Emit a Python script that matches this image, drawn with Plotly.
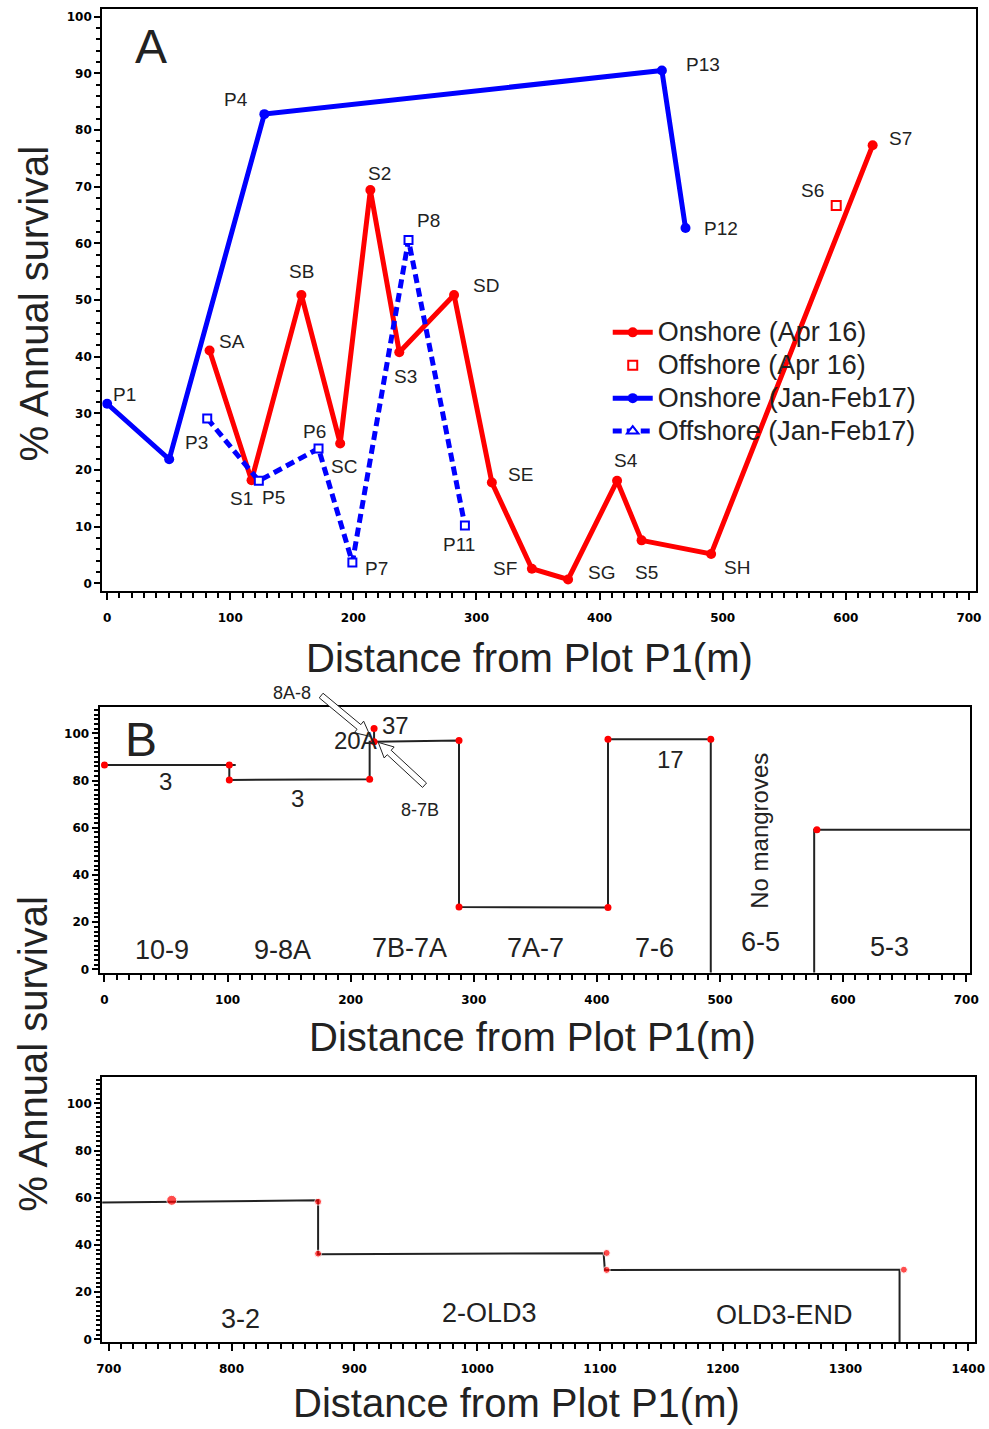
import plotly.graph_objects as go

W, H = 989, 1429

# ---------------- Panel A: % annual survival along the transect ----------------
on17_x = [0, 50.4, 127.7, 450.6, 469.8]
on17_y = [31.7, 21.9, 82.8, 90.5, 62.7]
on17_lab = ["P1", "", "P4", "P13", "P12"]

on16_x = [83.2, 117.3, 157.8, 189.3, 213.8, 237.3, 281.8, 312.5, 345.0, 374.4, 414.2, 434.1, 490.6, 621.8]
on16_y = [41.1, 18.2, 50.9, 24.7, 69.4, 40.8, 50.9, 17.8, 2.6, 0.7, 18.1, 7.6, 5.2, 77.3]
on16_lab = ["SA", "S1", "SB", "SC", "S2", "S3", "SD", "SE", "SF", "SG", "S4", "S5", "SH", "S7"]

off16_x = [592.2]
off16_y = [66.7]
off16_lab = ["S6"]

off17_x = [81.3, 123.2, 171.7, 199.2, 244.8, 290.6]
off17_y = [29.1, 18.1, 23.8, 3.7, 60.6, 10.2]
off17_lab = ["P3", "P5", "P6", "P7", "P8", "P11"]

# label placement relative to its point, in pixels (dx right, dy up)
label_shift = {
    "P1": (17, 9), "P4": (-28, 15), "P13": (41, 6), "P12": (35, 0),
    "SA": (22, 9), "S1": (-10, -18), "SB": (0, 23), "SC": (4, -23),
    "S2": (9, 17), "S3": (6, -24), "SD": (32, 9), "SE": (29, 8),
    "SF": (-27, 0), "SG": (33, 7), "S4": (9, 20), "S5": (5, -32),
    "SH": (26, -14), "S7": (28, 7), "S6": (-24, 15),
    "P3": (-11, -24), "P5": (15, -17), "P6": (-4, 17), "P7": (24, -6),
    "P8": (20, 19), "P11": (-6, -19),
}

# ---------------- Panel B: plots 10 to 3 (0-700 m) ----------------
b_line_x = [0, 106.6, None, 101.4, 101.4, 215.4, 215.4, 219.0, 219.0, 219.0, 288.0, 288.0,
            409.0, 409.0, 492.5, 492.5, None, 576.5, 576.5, 710]
b_line_y = [86.6, 86.6, None, 86.6, 80.3, 80.6, 96.5, 96.5, 102.1, 96.5, 97.0, 26.4,
            26.2, 97.5, 97.5, -5, None, -5, 59.2, 59.2]
b_pt_x = [0, 101.4, 101.4, 215.4, 219.0, 219.0, 288.0, 288.0, 409.0, 409.0, 492.5, 578.7]
b_pt_y = [86.6, 86.6, 80.3, 80.6, 96.5, 102.1, 97.0, 26.4, 26.2, 97.5, 97.5, 59.2]

b_sections = ["10-9", "9-8A", "7B-7A", "7A-7", "7-6", "6-5", "5-3"]
b_section_x = [46.4, 144.8, 248, 350.4, 446.7, 533.3, 637.3]
b_section_y = [8.3, 8.3, 8.9, 9.2, 8.9, 11.4, 9.6]

b_counts = ["3", "3", "20A", "37", "17"]
b_count_x = [49.3, 156.8, 204, 236, 460]
b_count_y = [79.6, 72.5, 96.9, 103.3, 89.1]

# ---------------- Panel C: plots 3 to END (700-1400 m) ----------------
c_line_x = [690, 870.5, 870.5, 1103, 1104, 1344, 1344]
c_line_y = [58.0, 58.9, 36.0, 36.5, 29.4, 29.5, -5]
c_pt_x = [751.3, 870.5, 870.5, 1105.5, 1105.5, 1347.5]
c_pt_y = [58.9, 58.3, 36.3, 36.6, 29.4, 29.5]

c_sections = ["3-2", "2-OLD3", "OLD3-END"]
c_section_x = [807.5, 1010, 1250.4]
c_section_y = [8.4, 11.0, 10.4]

RED = "#ff0000"
BLUE = "#0000ff"
INK = "#222222"
TXT = "Liberation Sans, Arial, sans-serif"


def px_to_paper(px, py):
    return px / W, 1 - py / H


# axis frames (pixel boxes: left, right, top, bottom) and ranges
A_box = (97.7, 984.5, 9.3, 592.7)
B_box = (95.0, 979.0, 709.0, 976.0)
C_box = (97.7, 984.0, 1080.7, 1346.7)
A_xr, A_yr = [-4, 705.4], [-1.27, 101.3]
B_xr, B_yr = [-4, 703.2], [-1.39, 111.4]
C_xr, C_yr = [694.7, 1405.5], [-1.14, 111.2]

fig = go.Figure()

# Panel A traces
fig.add_trace(go.Scatter(x=on17_x, y=on17_y, mode="lines+markers", showlegend=False,
                         line=dict(color=BLUE, width=5), marker=dict(color=BLUE, size=10),
                         xaxis="x", yaxis="y"))
fig.add_trace(go.Scatter(x=on16_x, y=on16_y, mode="lines+markers", showlegend=False,
                         line=dict(color=RED, width=5), marker=dict(color=RED, size=10),
                         xaxis="x", yaxis="y"))
fig.add_trace(go.Scatter(x=off17_x, y=off17_y, mode="lines+markers", showlegend=False,
                         line=dict(color=BLUE, width=5, dash="9px,5px"),
                         marker=dict(symbol="square", color="white", size=8,
                                     line=dict(color=BLUE, width=2)),
                         xaxis="x", yaxis="y"))
fig.add_trace(go.Scatter(x=off16_x, y=off16_y, mode="markers", showlegend=False,
                         marker=dict(symbol="square", color="white", size=9,
                                     line=dict(color=RED, width=2)),
                         xaxis="x", yaxis="y"))

# legend entries (larger text inside compact legend rows)
LEG = "<span style='font-size:27px'>%s</span>"
fig.add_trace(go.Scatter(x=[None], y=[None], mode="lines+markers", name=LEG % "Onshore (Apr 16)",
                         line=dict(color=RED, width=5), marker=dict(color=RED, size=10),
                         xaxis="x", yaxis="y"))
fig.add_trace(go.Scatter(x=[None], y=[None], mode="markers", name=LEG % "Offshore (Apr 16)",
                         marker=dict(symbol="square", color="white", size=9,
                                     line=dict(color=RED, width=2)),
                         xaxis="x", yaxis="y"))
fig.add_trace(go.Scatter(x=[None], y=[None], mode="lines+markers", name=LEG % "Onshore (Jan-Feb17)",
                         line=dict(color=BLUE, width=5), marker=dict(color=BLUE, size=10),
                         xaxis="x", yaxis="y"))
fig.add_trace(go.Scatter(x=[None], y=[None], mode="lines+markers", name=LEG % "Offshore (Jan-Feb17)",
                         line=dict(color=BLUE, width=5, dash="9px,5px"),
                         marker=dict(symbol="triangle-up", color="white", size=10,
                                     line=dict(color=BLUE, width=2)),
                         xaxis="x", yaxis="y"))

# Panel B traces
fig.add_trace(go.Scatter(x=b_line_x, y=b_line_y, mode="lines", showlegend=False,
                         line=dict(color=INK, width=2), xaxis="x2", yaxis="y2"))
fig.add_trace(go.Scatter(x=b_pt_x, y=b_pt_y, mode="markers", showlegend=False,
                         marker=dict(color=RED, size=7), xaxis="x2", yaxis="y2"))

# Panel C traces
fig.add_trace(go.Scatter(x=c_line_x, y=c_line_y, mode="lines", showlegend=False,
                         line=dict(color=INK, width=2), xaxis="x3", yaxis="y3"))
fig.add_trace(go.Scatter(x=c_pt_x, y=c_pt_y, mode="markers", showlegend=False,
                         marker=dict(color=RED, size=[10, 7, 7, 7, 7, 7]),
                         xaxis="x3", yaxis="y3"))

ann = []
# point labels in panel A
for xs, ys, labs in [(on17_x, on17_y, on17_lab), (on16_x, on16_y, on16_lab),
                     (off16_x, off16_y, off16_lab), (off17_x, off17_y, off17_lab)]:
    for x, y, t in zip(xs, ys, labs):
        if not t:
            continue
        dx, dy = label_shift[t]
        ann.append(dict(x=x, y=y, xref="x", yref="y", text=t, showarrow=False,
                        xshift=dx, yshift=dy, font=dict(family=TXT, size=19, color=INK)))

ann.append(dict(x=36, y=94.7, xref="x", yref="y", text="A", showarrow=False,
                font=dict(family=TXT, size=48, color=INK)))
ann.append(dict(x=29.6, y=97.6, xref="x2", yref="y2", text="B", showarrow=False,
                font=dict(family=TXT, size=48, color=INK)))

for t, x, y in zip(b_sections, b_section_x, b_section_y):
    ann.append(dict(x=x, y=y, xref="x2", yref="y2", text=t, showarrow=False,
                    font=dict(family=TXT, size=27, color=INK)))
for t, x, y in zip(b_counts, b_count_x, b_count_y):
    ann.append(dict(x=x, y=y, xref="x2", yref="y2", text=t, showarrow=False,
                    font=dict(family=TXT, size=24, color=INK)))
ann.append(dict(x=532, y=58.9, xref="x2", yref="y2", text="No mangroves", showarrow=False,
                textangle=-90, font=dict(family=TXT, size=24, color=INK)))
ann.append(dict(x=256, y=67.5, xref="x2", yref="y2", text="8-7B", showarrow=False,
                font=dict(family=TXT, size=18, color=INK)))

for t, x, y in zip(c_sections, c_section_x, c_section_y):
    ann.append(dict(x=x, y=y, xref="x3", yref="y3", text=t, showarrow=False,
                    font=dict(family=TXT, size=27, color=INK)))

# text placed outside the plotting areas
for text, px, py, ang, size in [("Distance from Plot P1(m)", 532, 660, 0, 40),
                                ("Distance from Plot P1(m)", 535, 1041, 0, 40),
                                ("Distance from Plot P1(m)", 518, 1408, 0, 40),
                                ("% Annual survival", 28, 305, -90, 40),
                                ("% Annual survival", 28, 1058, -90, 40),
                                ("8A-8", 290, 695, 0, 18)]:
    x, y = px_to_paper(px, py)
    ann.append(dict(x=x, y=y, xref="paper", yref="paper", text=text, showarrow=False,
                    textangle=ang, xanchor="center", yanchor="middle",
                    font=dict(family=TXT, size=size, color=INK)))


# hollow block arrows pointing at the short 8A-8 and 8-7B stretches in panel B
def block_arrow(tail, tip, sw=3.0, hw=7.5, hl=15.0):
    tx, ty = tail
    hx, hy = tip
    L = ((hx - tx) ** 2 + (hy - ty) ** 2) ** 0.5
    ux, uy = (hx - tx) / L, (hy - ty) / L
    nx, ny = -uy, ux
    bx, by = hx - ux * hl, hy - uy * hl
    pts = [(tx + nx * sw, ty + ny * sw), (bx + nx * sw, by + ny * sw),
           (bx + nx * hw, by + ny * hw), (hx, hy),
           (bx - nx * hw, by - ny * hw), (bx - nx * sw, by - ny * sw),
           (tx - nx * sw, ty - ny * sw)]
    d = [px_to_paper(*p) for p in pts]
    return "M " + " L ".join(f"{x:.5f},{y:.5f}" for x, y in d) + " Z"


shapes = []
for tail, tip in [((320, 698), (370, 739)), ((425, 788), (378, 745))]:
    shapes.append(dict(type="path", path=block_arrow(tail, tip), xref="paper", yref="paper",
                       fillcolor="white", line=dict(color=INK, width=1), layer="above"))

tickfont = dict(family="DejaVu Sans", size=12, color="black", weight="bold")


def xax(box, rng, anchor, dtick, tick0):
    x0, x1, _, _ = box
    return dict(domain=[x0 / W, x1 / W], range=rng, anchor=anchor, showgrid=False,
                zeroline=False, showline=True, linecolor="black", linewidth=2, mirror=True,
                ticks="outside", ticklen=7, tickwidth=2, tickcolor="black",
                tick0=tick0, dtick=dtick, tickfont=tickfont, ticklabelstandoff=8,
                minor=dict(dtick=10, ticks="outside", ticklen=5, tickwidth=2,
                           tickcolor="black", showgrid=False))


def yax(box, rng, anchor, dtick):
    _, _, y0, y1 = box
    return dict(domain=[1 - y1 / H, 1 - y0 / H], range=rng, anchor=anchor, showgrid=False,
                zeroline=False, showline=True, linecolor="black", linewidth=2, mirror=True,
                ticks="outside", ticklen=6, tickwidth=2, tickcolor="black",
                tickfont=tickfont, tickvals=list(range(0, 101, dtick)),
                minor=dict(dtick=2, tick0=0, ticks="outside", ticklen=4, tickwidth=1.5,
                           tickcolor="black", showgrid=False))


fig.update_layout(
    width=W, height=H, margin=dict(l=0, r=0, t=0, b=0), autosize=False,
    paper_bgcolor="white", plot_bgcolor="white",
    xaxis=xax(A_box, A_xr, "y", 100, 0),
    yaxis=yax(A_box, A_yr, "x", 10),
    xaxis2=xax(B_box, B_xr, "y2", 100, 0),
    yaxis2=yax(B_box, B_yr, "x2", 20),
    xaxis3=xax(C_box, C_xr, "y3", 100, 700),
    yaxis3=yax(C_box, C_yr, "x3", 20),
    annotations=ann, shapes=shapes,
    legend=dict(x=611 / W, y=1 - 312 / H, xanchor="left", yanchor="top",
                bgcolor="rgba(0,0,0,0)", font=dict(family=TXT, size=23, color=INK),
                itemwidth=40, tracegroupgap=0),
)

fig.write_html("out.html")
